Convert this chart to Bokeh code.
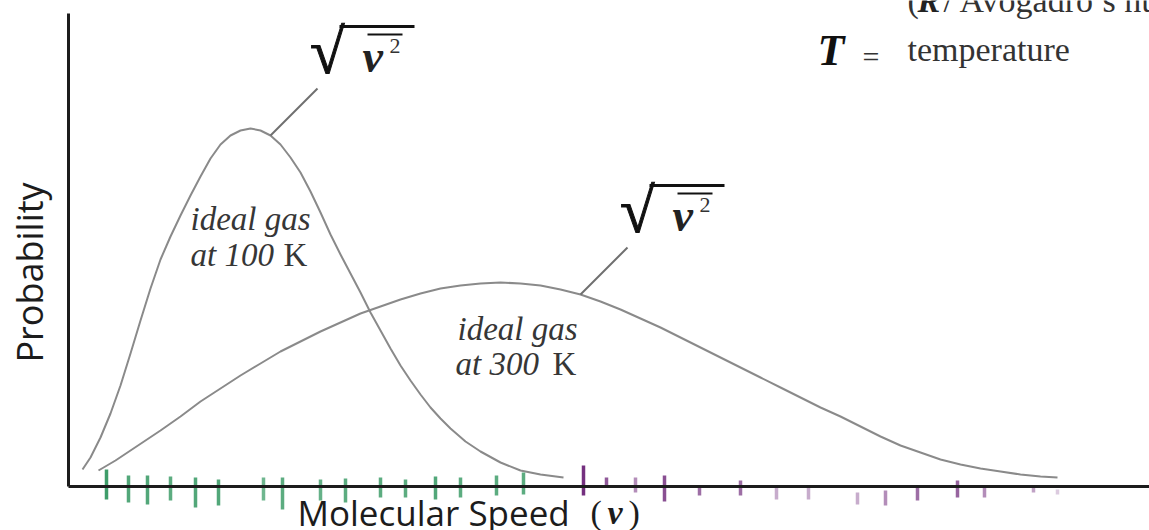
import math

from bokeh.embed import file_html
from bokeh.models import FixedTicker, Label, Range1d
from bokeh.plotting import figure
from bokeh.resources import INLINE

# Speed distributions (arbitrary speed / probability units)
speed_100k = [14, 22, 32, 42, 52, 62, 72, 82, 92, 102, 112, 122, 132, 142, 152, 162,
              172, 182, 192, 202, 212, 222, 232, 242, 252, 262, 272, 282, 292, 302,
              312, 322, 332, 342, 352, 362, 372, 382, 397, 412, 432, 452, 472, 495]
prob_100k = [17, 29, 49, 73, 101, 133, 166, 198, 227, 250, 271, 291, 310, 328, 342,
             351, 356, 358, 356, 351, 342, 329, 314, 295, 274, 252, 232, 213, 194,
             174, 156, 138, 121, 106, 92, 79, 68, 58, 45, 35, 24, 16, 12, 9]

speed_300k = [30, 47, 62, 77, 92, 112, 132, 152, 172, 192, 212, 232, 252, 272, 292,
              312, 332, 352, 372, 392, 412, 432, 452, 472, 492, 512, 532, 552, 572,
              592, 612, 632, 652, 672, 692, 712, 732, 752, 772, 792, 812, 832, 852,
              872, 892, 912, 932, 952, 972, 989]
prob_300k = [16, 26, 36, 46, 56, 70, 85, 98, 111, 123, 135, 145, 155, 164, 173,
             180, 187, 193, 198, 201, 203, 204, 203, 201, 197, 192, 185, 177, 168,
             159, 149, 139, 129, 119, 109, 99, 89, 79, 70, 60, 50, 41, 34, 27, 22,
             18, 15, 12, 10, 9]

# Individual molecule speeds marked along the speed axis
green_speeds = [38, 60, 79, 102, 127, 150, 195, 214, 252, 277, 312, 337, 367, 392, 428, 455]
green_top = [17, 11, 11, 10, 9, 7, 9, 9, 7, 8, 9, 7, 10, 9, 11, 14]
green_bottom = [-13, -16, -18, -14, -21, -19, -14, -23, -14, -16, -11, -11, -13, -11, -9, -8]

purple_speeds = [515, 538, 567, 596, 631, 672, 708, 740, 789, 817, 849, 889, 916, 965, 989]
purple_top = [21, 9, 9, 11, 1, 6, -1, -1, -6, -4, -1, 6, -1, 1, -3]
purple_bottom = [-9, 1, -6, -15, -9, -9, -13, -13, -18, -19, -14, -11, -11, -6, -8]

# tick ink strength
green_alpha = [1.0, 0.9, 0.9, 0.85, 0.9, 0.9, 0.75, 0.85, 0.8, 0.85, 0.85, 0.85, 0.9, 0.85, 0.85, 0.85]
purple_alpha = [1.0, 0.8, 0.55, 0.85, 0.7, 0.7, 0.4, 0.4, 0.4, 0.55, 0.7, 0.75, 0.55, 0.45, 0.25]

CURVE = "#8a8a8a"
INK = "#1c1c1c"
SERIF = "Liberation Serif"

p = figure(width=1149, height=530,
           x_range=Range1d(-68, 1081), y_range=Range1d(-44, 486),
           output_backend="svg", toolbar_location=None, min_border=0,
           outline_line_color=None, background_fill_color="white",
           border_fill_color="white")
p.grid.visible = False

for ax, bnd in ((p.xaxis, (0, 1081)), (p.yaxis, (0, 473))):
    ax.fixed_location = 0
    ax.bounds = bnd
    ax.ticker = FixedTicker(ticks=[])
    ax.major_tick_line_color = None
    ax.minor_tick_line_color = None
    ax.major_label_text_font_size = "0px"
    ax.axis_line_width = 3
    ax.axis_line_color = INK

# distribution curves
p.line(speed_100k, prob_100k, line_color=CURVE, line_width=2, line_join="round")
p.line(speed_300k, prob_300k, line_color=CURVE, line_width=2, line_join="round")

# molecule ticks
p.segment(x0=green_speeds, y0=green_top, x1=green_speeds, y1=green_bottom,
          line_color="#3f9d6a", line_alpha=green_alpha, line_width=3.5)
p.segment(x0=purple_speeds, y0=purple_top, x1=purple_speeds, y1=purple_bottom,
          line_color="#74307f", line_alpha=purple_alpha, line_width=3.5)

# Labels land about 0.4 em below the requested alphabetic baseline; lift them.
LIFT = 0.4


def add_label(x, y, text, size, style="normal", font=SERIF, color=INK,
              align="left", angle=0.0, outline=None):
    dx = -LIFT * size * math.sin(angle)
    dy = LIFT * size * math.cos(angle)
    p.add_layout(Label(x=x + dx, y=y + dy, text=text, text_font=font,
                       text_font_size=f"{size}px", text_font_style=style,
                       text_color=color, text_outline_color=outline,
                       text_baseline="alphabetic", text_align=align, angle=angle))


def rms_callout(speeds, probs, anchor):
    """Leader from the curve to a root-mean-square speed symbol."""
    i = speeds.index(anchor)
    x0, y0 = speeds[i], probs[i]
    ex, ey = x0 + 47, y0 + 47
    p.segment(x0=[x0], y0=[y0], x1=[ex], y1=[ey], line_color="#6f6f6f", line_width=2)
    add_label(ex + 27, ey + 11, "\u221a", 63, "bold", color="#111111", align="right",
              outline="#111111")
    p.segment(x0=[ex + 22, ex + 50], y0=[ey + 62, ey + 54], x1=[ex + 97, ex + 85],
              y1=[ey + 62, ey + 54], line_color="#111111", line_width=[3, 2])
    add_label(ex + 45, ey + 14, "v", 46, "bold italic", color="#222222")
    add_label(ex + 72, ey + 34, "2", 22, color="#333333")


rms_callout(speed_100k, prob_100k, 202)
rms_callout(speed_300k, prob_300k, 512)

# curve captions
TXT = "#363636"
add_label(122, 254, "ideal gas", 33, "italic", color=TXT)
add_label(122, 218, "at 100", 33, "italic", color=TXT)
add_label(215, 218, "K", 33, color=TXT)
add_label(389, 144, "ideal gas", 33, "italic", color=TXT)
add_label(387, 109, "at 300", 33, "italic", color=TXT)
add_label(484, 109, "K", 33, color=TXT)

# legend text in the upper right
add_label(839, 472, "(", 34, color="#333333")
add_label(849, 472, "R", 34, "bold italic", color="#222222")
add_label(875, 472, "/ Avogadro\u2019s number)", 34, color="#333333")
add_label(749, 418, "T", 44, "bold italic", color="#111111")
add_label(794, 418, "=", 30, color="#333333")
add_label(839, 423, "temperature", 34, color="#333333")

# axis titles
add_label(229, -40, "Molecular Speed", 35, font="Open Sans", color=INK)
add_label(522, -40, "(", 34, color=INK)
add_label(539, -40, "v", 34, "bold italic", color=INK)
add_label(560, -40, ")", 34, color=INK)
add_label(-25, 214, "Probability", 36, font="Open Sans", color=INK,
          align="center", angle=math.pi / 2)

open("out.html", "w").write(file_html(p, INLINE))
